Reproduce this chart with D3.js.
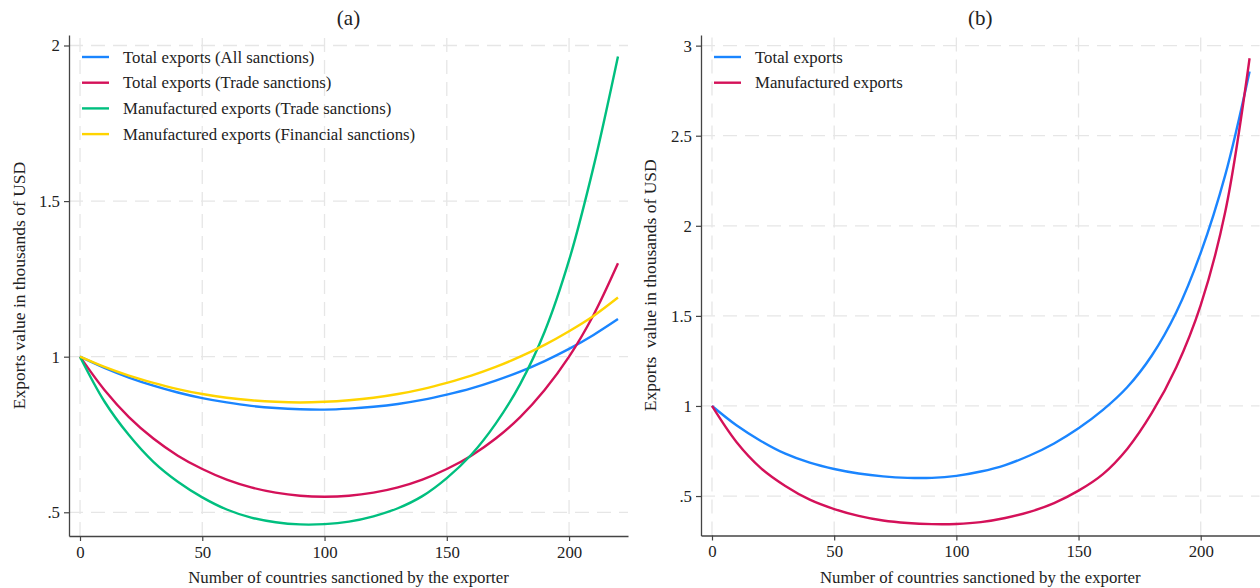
<!DOCTYPE html>
<html>
<head>
<meta charset="utf-8">
<script src="https://cdn.jsdelivr.net/npm/d3@7"></script>
<style>
  html, body { margin: 0; padding: 0; background: #fff; }
  svg { display: block; }
</style>
</head>
<body>
<svg id="chart" width="1260" height="588"></svg>
<script>
// ---------------- DATA ----------------
const sanctionedCountries = [0,10,20,30,40,50,60,70,80,90,100,110,120,130,140,150,160,170,180,190,200,210,220];

// Panel (a)
const aTotalAll      = [1,0.964,0.933,0.907,0.885,0.867,0.853,0.842,0.835,0.831,0.830,0.833,0.839,0.848,0.861,0.878,0.898,0.923,0.952,0.986,1.025,1.070,1.121];
const aTotalTrade    = [1,0.893,0.806,0.737,0.682,0.639,0.605,0.580,0.563,0.553,0.550,0.553,0.563,0.580,0.605,0.639,0.682,0.737,0.806,0.893,1.000,1.134,1.300];
const aManufTrade    = [1,0.856,0.748,0.662,0.598,0.548,0.509,0.483,0.468,0.461,0.462,0.470,0.487,0.513,0.552,0.610,0.685,0.785,0.912,1.080,1.310,1.610,1.965];
const aManufFinance  = [1,0.967,0.939,0.916,0.896,0.880,0.868,0.860,0.855,0.853,0.855,0.860,0.868,0.880,0.896,0.916,0.939,0.967,1.000,1.038,1.082,1.131,1.190];

// Panel (b)
const bTotal         = [1,0.893,0.806,0.735,0.685,0.650,0.625,0.609,0.601,0.601,0.612,0.636,0.672,0.725,0.792,0.876,0.978,1.105,1.280,1.520,1.850,2.280,2.857];
const bManuf         = [1,0.800,0.655,0.556,0.480,0.428,0.390,0.364,0.350,0.344,0.345,0.355,0.378,0.412,0.461,0.530,0.622,0.763,0.961,1.215,1.560,2.075,2.930];

const xTicks  = [0,50,100,150,200];
const yTicksA = [0.5,1,1.5,2];
const yTicksB = [0.5,1,1.5,2,2.5,3];

const seriesA = [
  {name: "Total exports (All sanctions)",              values: aTotalAll,     color: "#1a85ff"},
  {name: "Total exports (Trade sanctions)",            values: aTotalTrade,   color: "#d41159"},
  {name: "Manufactured exports (Trade sanctions)",     values: aManufTrade,   color: "#00bf7f"},
  {name: "Manufactured exports (Financial sanctions)", values: aManufFinance, color: "#ffd400"}
];
const seriesB = [
  {name: "Total exports",        values: bTotal, color: "#1a85ff"},
  {name: "Manufactured exports", values: bManuf, color: "#d41159"}
];

// ---------------- DRAW ----------------
const FONT = "'Liberation Serif', 'Times New Roman', Tinos, 'Nimbus Roman', 'DejaVu Serif', serif";
const FS = 16.8;
const svg = d3.select("#chart").attr("font-family", FONT);
svg.append("rect").attr("width",1260).attr("height",588).attr("fill","#fff");

const fmt = d => String(d).replace(/^0\./, ".");

function panel(cfg) {
  const x = d3.scaleLinear().domain([-4.5, 224.1]).range(cfg.xRange);
  const y = d3.scaleLinear().domain(cfg.yDomain).range(cfg.yRange);
  const g = svg.append("g");

  // grid
  g.append("g").selectAll("line").data(cfg.yTicks).join("line")
    .attr("x1", cfg.xRange[0]).attr("x2", cfg.xRange[1])
    .attr("y1", d => y(d)).attr("y2", d => y(d))
    .attr("stroke", "#e6e6e6").attr("stroke-width", 1.3).attr("stroke-dasharray", "14,8");
  g.append("g").selectAll("line").data(xTicks).join("line")
    .attr("x1", d => x(d)).attr("x2", d => x(d))
    .attr("y1", cfg.yRange[0]).attr("y2", cfg.yRange[1])
    .attr("stroke", "#e6e6e6").attr("stroke-width", 1.3).attr("stroke-dasharray", "14,8");

  // lines
  const line = d3.line()
    .x((d, i) => x(sanctionedCountries[i]))
    .y(d => y(d))
    .curve(d3.curveCatmullRom.alpha(0.5));
  g.append("g").selectAll("path").data(cfg.series).join("path")
    .attr("d", s => line(s.values))
    .attr("fill", "none").attr("stroke", s => s.color).attr("stroke-width", 2.4);

  // axes
  const ax = g.append("g").attr("transform", `translate(0,${cfg.yRange[0]})`)
    .call(d3.axisBottom(x).tickValues(xTicks).tickFormat(fmt).tickSize(5).tickSizeOuter(0).tickPadding(5));
  const ay = g.append("g").attr("transform", `translate(${cfg.xRange[0]},0)`)
    .call(d3.axisLeft(y).tickValues(cfg.yTicks).tickFormat(fmt).tickSize(5).tickSizeOuter(0).tickPadding(4));
  [ax, ay].forEach(a => {
    a.attr("font-family", FONT).attr("font-size", FS);
    a.select(".domain").attr("stroke", "#444").attr("stroke-width", 1.3);
    a.selectAll(".tick line").attr("stroke", "#444").attr("stroke-width", 1.2);
    a.selectAll(".tick text").attr("fill", "#222").attr("font-family", FONT).attr("font-size", FS);
  });

  const cx = (cfg.xRange[0] + cfg.xRange[1]) / 2;
  // title
  svg.append("text").attr("x", cx).attr("y", 25).attr("text-anchor", "middle")
    .attr("font-family", FONT).attr("fill", "#222").attr("font-size", 21).text(cfg.title);
  // x label
  svg.append("text").attr("x", cx).attr("y", 583).attr("text-anchor", "middle")
    .attr("font-family", FONT).attr("fill", "#222").attr("font-size", FS)
    .text("Number of countries sanctioned by the exporter");
  // y label
  svg.append("text")
    .attr("transform", `translate(${cfg.yLabelX},${(cfg.yRange[0] + cfg.yRange[1]) / 2}) rotate(-90)`)
    .attr("text-anchor", "middle").attr("dominant-baseline", "central")
    .attr("xml:space", "preserve").style("white-space", "pre")
    .attr("font-family", FONT).attr("fill", "#222").attr("font-size", 17.5).text(cfg.yLabel);

  // legend
  const lg = svg.append("g");
  cfg.series.forEach((s, i) => {
    const yy = cfg.legendY + i * 25.7;
    lg.append("line").attr("x1", cfg.legendX).attr("x2", cfg.legendX + 27)
      .attr("y1", yy).attr("y2", yy).attr("stroke", s.color).attr("stroke-width", 2.4);
    lg.append("text").attr("x", cfg.legendX + 41).attr("y", yy)
      .attr("dominant-baseline", "central").attr("font-family", FONT).attr("fill", "#222")
      .attr("font-size", FS).text(s.name);
  });
}

panel({
  title: "(a)",
  xRange: [69, 628], yRange: [536, 35], yDomain: [0.4238, 2.0337],
  yTicks: yTicksA, series: seriesA,
  yLabel: "Exports value in thousands of USD", yLabelX: 19,
  legendX: 82, legendY: 57
});
panel({
  title: "(b)",
  xRange: [701, 1259.6], yRange: [535.5, 35], yDomain: [0.281, 3.059],
  yTicks: yTicksB, series: seriesB,
  yLabel: "Exports  value in thousands of USD", yLabelX: 650,
  legendX: 714, legendY: 57
});
</script>
</body>
</html>
